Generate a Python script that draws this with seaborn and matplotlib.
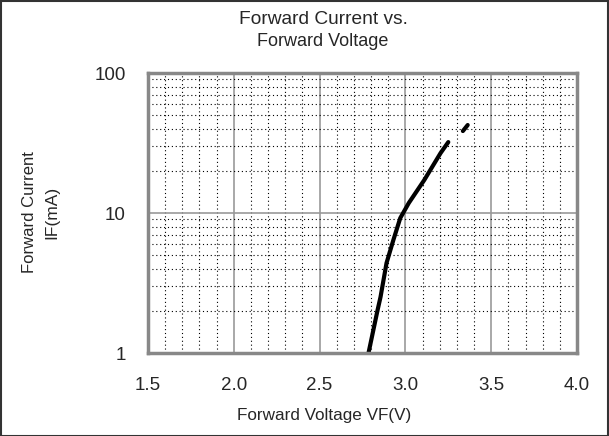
import matplotlib
matplotlib.use("Agg")
import matplotlib.pyplot as plt
import matplotlib.ticker as mticker
import numpy as np
import pandas as pd
import seaborn as sns

# curve (VF in volts, IF in mA)
vf_main = [2.785, 2.838, 2.855, 2.89, 2.93, 2.97, 3.02, 3.11, 3.205, 3.25]
if_main = [1.0, 2.03, 2.51, 4.39, 6.42, 9.2, 11.8, 17.2, 26.8, 32.1]
vf_tail = [3.335, 3.363]
if_tail = [38.5, 42.5]

x_ticks = [1.5, 2.0, 2.5, 3.0, 3.5, 4.0]
y_ticks = [1, 10, 100]


def main():
    df = pd.DataFrame({
        "vf": vf_main + vf_tail,
        "if": if_main + if_tail,
        "seg": [0] * len(vf_main) + [1] * len(vf_tail),
    })

    sns.set_style("white")
    plt.rcParams['font.family'] = ['Liberation Sans', 'DejaVu Sans']

    fig = plt.figure(figsize=(6.09, 4.36), dpi=100)
    ax = fig.add_axes([148 / 609, 1 - 353 / 436, (577 - 148) / 609, (353 - 73) / 436])

    sns.lineplot(data=df, x="vf", y="if", units="seg", estimator=None,
                 color="black", linewidth=3, ax=ax, legend=False)

    ax.set_yscale("log")
    ax.set_xlim(1.5, 4.0)
    ax.set_ylim(1, 100)
    ax.set_xticks(x_ticks)
    ax.set_xticklabels([f"{v:.1f}" for v in x_ticks])
    ax.set_yticks(y_ticks)
    ax.set_yticklabels([str(v) for v in y_ticks])
    ax.xaxis.set_minor_locator(mticker.MultipleLocator(0.1))
    ax.yaxis.set_minor_locator(mticker.LogLocator(base=10, subs=np.arange(2, 10)))
    ax.yaxis.set_minor_formatter(mticker.NullFormatter())
    ax.tick_params(which="both", length=0, labelsize=13.5)
    ax.tick_params(axis="x", pad=17)
    ax.tick_params(axis="y", pad=16)

    ax.grid(True, which="minor", color="black", linestyle=(0, (1, 2.5)), linewidth=0.8)
    ax.grid(True, which="major", color="#999999", linestyle="-", linewidth=1.2)
    ax.set_axisbelow(True)
    for s in ax.spines.values():
        s.set_color("#888888")
        s.set_linewidth(2.5)

    ax.set_xlabel("")
    ax.set_ylabel("")
    fig.text(323 / 609, 1 - 19 / 436, "Forward Current vs.", ha="center", va="center", fontsize=13.8)
    fig.text(323 / 609, 1 - 42 / 436, "Forward Voltage", ha="center", va="center", fontsize=13)
    fig.text(324 / 609, 1 - 415 / 436, "Forward Voltage VF(V)", ha="center", va="center", fontsize=12.3)
    fig.text(30 / 609, 1 - 212 / 436, "Forward Current", ha="center", va="center", rotation=90, fontsize=12)
    fig.text(52 / 609, 1 - 212 / 436, "IF(mA)", ha="center", va="center", rotation=90, fontsize=12.5)

    # outer frame of the chart
    fig.patches.append(plt.Rectangle((0.001, 0.001), 0.997, 0.997, transform=fig.transFigure,
                                     fill=False, edgecolor="#333333", linewidth=1.5))

    fig.savefig("out.png", dpi=100)


if __name__ == '__main__':
    main()
